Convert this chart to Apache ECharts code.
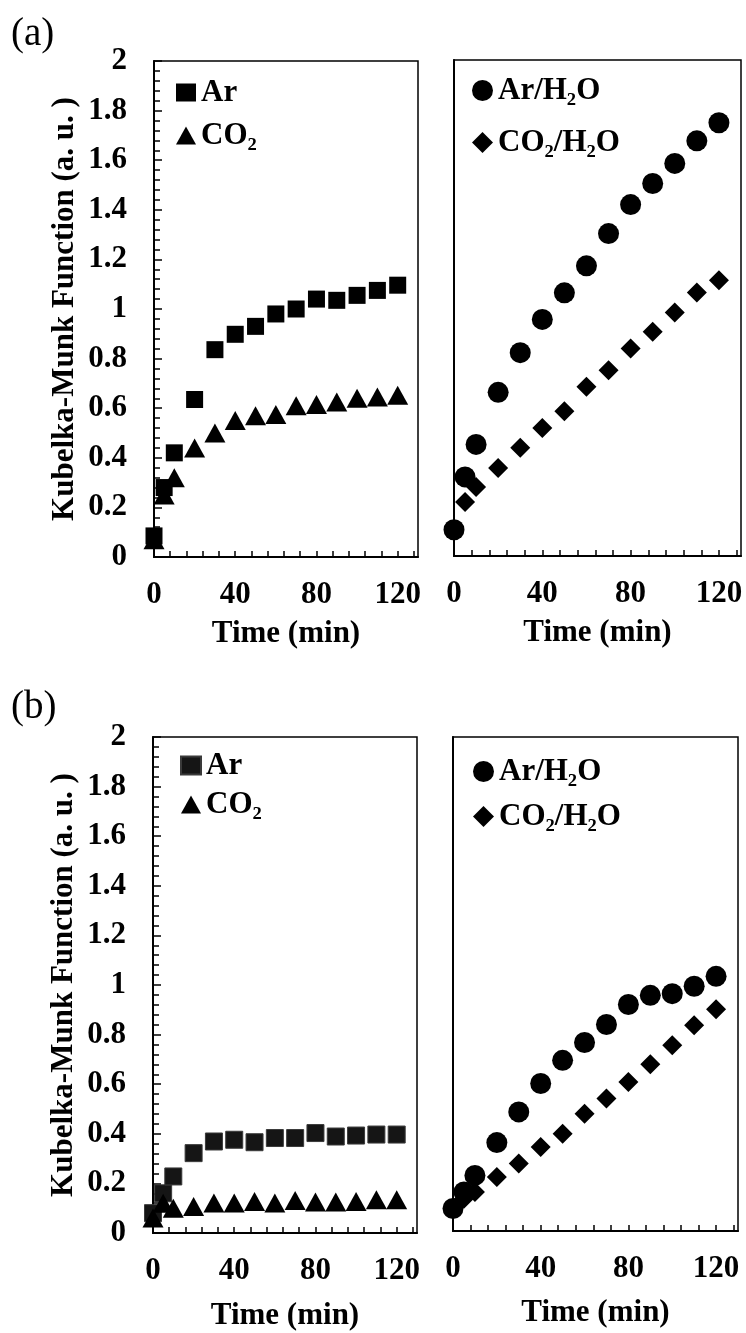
<!DOCTYPE html>
<html>
<head>
<meta charset="utf-8">
<script src="https://cdn.jsdelivr.net/npm/echarts@6/dist/echarts.min.js"></script>
<style>
html,body{margin:0;padding:0;background:#fff;}
#chart{width:746px;height:1333px;}
</style>
</head>
<body>
<div id="chart"></div>
<script>
// ---- data ----
const timeMin = [0, 5, 10, 20, 30, 40, 50, 60, 70, 80, 90, 100, 110, 120];
const aAr      = [0.085, 0.28, 0.42, 0.635, 0.836, 0.898, 0.93, 0.98, 1.0, 1.04, 1.035, 1.055, 1.075, 1.096];
const aCO2     = [0.07, 0.25, 0.32, 0.44, 0.50, 0.55, 0.57, 0.575, 0.61, 0.615, 0.625, 0.64, 0.645, 0.652];
const aArH2O   = [0.106, 0.319, 0.45, 0.66, 0.82, 0.954, 1.061, 1.17, 1.30, 1.417, 1.502, 1.583, 1.674, 1.747];
const aCO2H2O  = [0.10, 0.218, 0.278, 0.355, 0.436, 0.516, 0.584, 0.682, 0.749, 0.837, 0.904, 0.982, 1.062, 1.112];
const bAr      = [0.08, 0.16, 0.228, 0.322, 0.369, 0.376, 0.366, 0.383, 0.383, 0.403, 0.389, 0.393, 0.397, 0.397];
const bCO2     = [0.06, 0.12, 0.10, 0.107, 0.121, 0.121, 0.127, 0.121, 0.131, 0.125, 0.125, 0.127, 0.134, 0.134];
const bArH2O   = [0.091, 0.158, 0.225, 0.358, 0.482, 0.597, 0.691, 0.763, 0.836, 0.917, 0.954, 0.961, 0.991, 1.031];
const bCO2H2O  = [0.09, 0.131, 0.158, 0.219, 0.273, 0.34, 0.394, 0.475, 0.536, 0.603, 0.675, 0.752, 0.833, 0.898];

const panelLabels = ['(a)', '(b)'];
const xTitle = 'Time (min)';
const yTitle = 'Kubelka-Munk Function (a. u. )';
const nameAr = 'Ar', nameCO2 = 'CO₂', nameArH2O = 'Ar/H₂O', nameCO2H2O = 'CO₂/H₂O';
const xMin = 0, xMax = 130, xTickStep = 8, xLabelStep = 40;
const yMin = 0, yMax = 2, yStep = 0.2;

// ---- layout ----
const FONT = "'Liberation Serif','Times New Roman',serif";
const grids = [
  {left: 154, top: 61, width: 264, height: 496},
  {left: 454, top: 60, width: 287, height: 496},
  {left: 153, top: 737, width: 264, height: 496},
  {left: 453, top: 737, width: 285, height: 494}
];
const xNameGaps = [61, 61, 67, 66];

function pairs(ys){ return timeMin.map((t,i)=>[t, ys[i]]); }

const xAxes = grids.map((g,i)=>({
  gridIndex: i, type: 'value', min: xMin, max: xMax, interval: xTickStep,
  name: xTitle, nameLocation: 'middle', nameGap: xNameGaps[i],
  nameTextStyle: {fontFamily: FONT, fontWeight: 'bold', fontSize: 31, color: '#000'},
  axisLine: {show: true, onZero: false, lineStyle: {color: '#000', width: 2}},
  axisTick: {show: true, inside: true, length: 6, lineStyle: {color: '#000', width: 1.5}},
  axisLabel: {show: true, margin: 22, fontFamily: FONT, fontWeight: 'bold', fontSize: 31, color: '#000',
    showMaxLabel: false,
    formatter: v => (Math.abs(v % xLabelStep) < 1e-9 ? String(v) : '')},
  splitLine: {show: false}
}));

const yAxes = grids.map((g,i)=>{
  const left = (i % 2 === 0);
  return {
    gridIndex: i, type: 'value', min: yMin, max: yMax, interval: yStep,
    name: left ? yTitle : '', nameLocation: 'middle', nameGap: 74, nameRotate: 90,
    nameTextStyle: {fontFamily: FONT, fontWeight: 'bold', fontSize: 31, color: '#000'},
    axisLine: {show: true, lineStyle: {color: '#000', width: 2}},
    axisTick: {show: left, inside: true, length: 8, lineStyle: {color: '#000', width: 1.5}},
    minorTick: {show: left, splitNumber: 5, length: 6, lineStyle: {color: '#000', width: 1.5}},
    axisLabel: {show: left, margin: 27, fontFamily: FONT, fontWeight: 'bold', fontSize: 31, color: '#000'},
    splitLine: {show: false}, minorSplitLine: {show: false}
  };
});

function sc(name, gi, ys, symbol, size, color, border){
  return {
    type: 'scatter', name: name, xAxisIndex: gi, yAxisIndex: gi,
    data: pairs(ys), symbol: symbol, symbolSize: size,
    itemStyle: {color: color || '#000', borderColor: border || 'transparent', borderWidth: border ? 1 : 0, opacity: 1},
    emphasis: {disabled: true}, silent: true
  };
}

const series = [
  sc(nameAr, 0, aAr, 'rect', 17),
  sc(nameCO2, 0, aCO2, 'triangle', [21, 19]),
  sc(nameArH2O, 1, aArH2O, 'circle', 21),
  sc(nameCO2H2O, 1, aCO2H2O, 'diamond', 20),
  sc(nameAr + ' ', 2, bAr, 'rect', 17, '#151515', '#3a3a3a'),
  sc(nameCO2 + ' ', 2, bCO2, 'triangle', [21, 19]),
  sc(nameArH2O + ' ', 3, bArH2O, 'circle', 21),
  sc(nameCO2H2O + ' ', 3, bCO2H2O, 'diamond', 20)
];

function lg(names, left, top, gap, w, h){
  return {
    orient: 'vertical', left: left, top: top, itemGap: gap, itemWidth: w, itemHeight: h,
    data: names, selectedMode: false, padding: 0,
    formatter: n => n.trim(),
    textStyle: {fontFamily: FONT, fontWeight: 'bold', fontSize: 31, color: '#000', lineHeight: 30}
  };
}

const option = {
  animation: false,
  backgroundColor: '#fff',
  title: [
    {text: panelLabels[0], left: 11, top: 15, padding: 0,
     textStyle: {fontFamily: FONT, fontWeight: 'normal', fontSize: 39, color: '#000'}},
    {text: panelLabels[1], left: 11, top: 688, padding: 0,
     textStyle: {fontFamily: FONT, fontWeight: 'normal', fontSize: 39, color: '#000'}}
  ],
  grid: grids.map(g => Object.assign({show: true, borderColor: '#000', borderWidth: 1.5, backgroundColor: 'transparent', containLabel: false}, g)),
  xAxis: xAxes,
  yAxis: yAxes,
  legend: [
    lg([{name: nameAr, icon: 'rect'}, {name: nameCO2, icon: 'triangle'}], 176, 77, 12, 20, 18),
    lg([{name: nameArH2O, icon: 'circle'}, {name: nameCO2H2O, icon: 'diamond'}], 472, 75, 21, 21, 21),
    lg([{name: nameAr + ' ', icon: 'rect'}, {name: nameCO2 + ' ', icon: 'triangle'}], 180, 750, 8, 20, 18),
    lg([{name: nameArH2O + ' ', icon: 'circle'}, {name: nameCO2H2O + ' ', icon: 'diamond'}], 473, 756, 14, 21, 21)
  ],
  tooltip: {show: false},
  series: series
};

const chart = echarts.init(document.getElementById('chart'), null, {renderer: 'canvas'});
chart.setOption(option);
</script>
</body>
</html>
